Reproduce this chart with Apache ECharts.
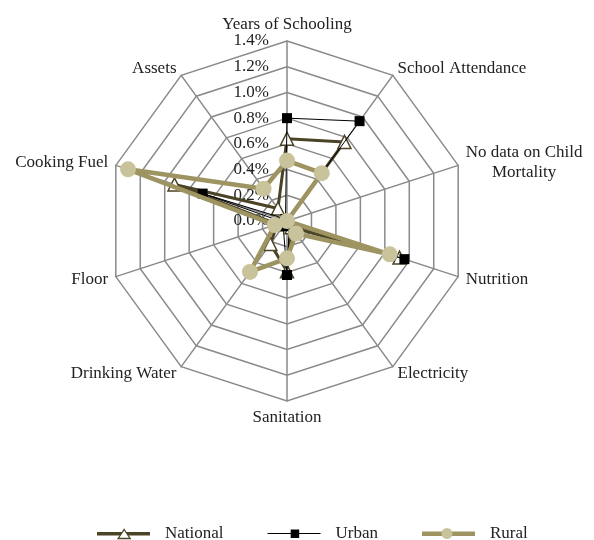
<!DOCTYPE html>
<html>
<head>
<meta charset="utf-8">
<script src="https://cdn.jsdelivr.net/npm/echarts@6/dist/echarts.min.js"></script>
<style>
  html, body { margin: 0; padding: 0; background: #fff; }
  #myChart { width: 594px; height: 540px; }
</style>
</head>
<body>
<div id="myChart"></div>
<script>
// indicators in clockwise order starting at the top
const indicators = ["Years of Schooling", "School Attendance", "No data on Child\nMortality", "Nutrition",
  "Electricity", "Sanitation", "Drinking Water", "Floor", "Cooking Fuel", "Assets"];
// values in %
const national = [0.64, 0.76, 0, 0.92, 0.06, 0.39, 0.22, 0.08, 0.92, 0.12];
const urban = [0.80, 0.96, 0, 0.96, 0.03, 0.42, 0.05, 0.03, 0.69, 0.02];
const rural = [0.47, 0.46, 0, 0.84, 0.12, 0.29, 0.49, 0.10, 1.30, 0.31];
const axisMax = 1.4;
const seriesNames = ["National", "Urban", "Rural"];

// echarts lays out radar indicators counter-clockwise, so flip the order after the first one
function ccw(arr) {
  return [arr[0]].concat(arr.slice(1).reverse());
}

const font = "'Liberation Serif', 'DejaVu Serif', serif";
const textColor = "#222";
const nationalColor = "#4b4326";
const ruralLine = "#9e9461";
const ruralDot = "#c9c39b";

// legend icons: a line part and a marker part, drawn by two overlapping legends
// (the degenerate segments at the corners keep the icon box 63x11 so nothing gets rescaled)
const box = " M0,0L0,0 M63,11L63,11";
const lineIcons = {
  National: "path://M0,4h53v3.5h-53z" + box,
  Urban: "path://M0,5h53v1h-53z" + box,
  Rural: "path://M0,3.5h53v4.5h-53z" + box
};
const markerIcons = {
  National: "path://M26.5,1.5L32.5,10.5H20.5z" + box,
  Urban: "path://M22.5,1.5h8.5v8.5h-8.5z" + box,
  Rural: "path://M26.5,-0.5a6,6 0 1,0 0.01,0z" + box
};

let myChart = echarts.init(document.getElementById("myChart"));

const legendBase = {
  top: 520,
  left: 92,
  itemWidth: 63,
  itemHeight: 11,
  itemGap: 44,
  symbolKeepAspect: true
};

let option = {
  textStyle: { fontFamily: font },
  legend: [
    Object.assign({}, legendBase, {
      z: 4,
      textStyle: { fontFamily: font, fontSize: 17, color: textColor },
      data: [
        { name: "National", icon: lineIcons.National, itemStyle: { color: nationalColor, borderWidth: 0 } },
        { name: "Urban", icon: lineIcons.Urban, itemStyle: { color: "#000", borderWidth: 0 } },
        { name: "Rural", icon: lineIcons.Rural, itemStyle: { color: ruralLine, borderWidth: 0 } }
      ]
    }),
    Object.assign({}, legendBase, {
      z: 5,
      textStyle: { fontFamily: font, fontSize: 17, color: "rgba(0,0,0,0)" },
      data: [
        { name: "National", icon: markerIcons.National, itemStyle: { color: "#fff", borderColor: nationalColor, borderWidth: 1.3 } },
        { name: "Urban", icon: markerIcons.Urban, itemStyle: { color: "#000", borderWidth: 0 } },
        { name: "Rural", icon: markerIcons.Rural, itemStyle: { color: ruralDot, borderWidth: 0 } }
      ]
    })
  ],
  radar: {
    center: [287, 221],
    radius: 180,
    shape: "polygon",
    splitNumber: 7,
    nameGap: 8,
    axisName: {
      color: textColor,
      fontFamily: font,
      fontSize: 17,
      formatter: (name) => name.indexOf("\n") < 0 ? name :
        name.split("\n").map((s) => "{c|" + s + "}").join("\n"),
      rich: {
        c: { align: "center", color: textColor, fontFamily: font, fontSize: 17, lineHeight: 20 }
      }
    },
    axisLine: { lineStyle: { color: "#8a8a8a", width: 1.5 } },
    splitLine: { lineStyle: { color: "#8a8a8a", width: 1.5 } },
    splitArea: { show: false },
    axisTick: { show: false },
    axisLabel: { show: false },
    indicator: ccw(indicators).map((name, i) => ({
      name: name,
      min: 0,
      max: axisMax,
      axisLabel: i === 0 ? {
        show: true,
        color: textColor,
        fontFamily: font,
        fontSize: 17,
        margin: 18,
        formatter: (v) => v.toFixed(1) + "%"
      } : { show: false }
    }))
  },
  series: [
    {
      type: "radar",
      z: 2,
      data: [{
        name: seriesNames[0],
        value: ccw(national),
        symbol: "triangle",
        symbolSize: 13,
        lineStyle: { color: nationalColor, width: 3 },
        itemStyle: { color: "#ffffff", borderColor: nationalColor, borderWidth: 1.5 }
      }]
    },
    {
      type: "radar",
      z: 3,
      data: [{
        name: seriesNames[1],
        value: ccw(urban),
        symbol: "rect",
        symbolSize: 10,
        lineStyle: { color: "#000000", width: 1 },
        itemStyle: { color: "#000000" }
      }]
    },
    {
      type: "radar",
      z: 4,
      data: [{
        name: seriesNames[2],
        value: ccw(rural),
        symbol: "circle",
        symbolSize: 16,
        lineStyle: { color: ruralLine, width: 4.5 },
        itemStyle: { color: ruralDot }
      }]
    }
  ]
};
myChart.setOption(option);
</script>
</body>
</html>
